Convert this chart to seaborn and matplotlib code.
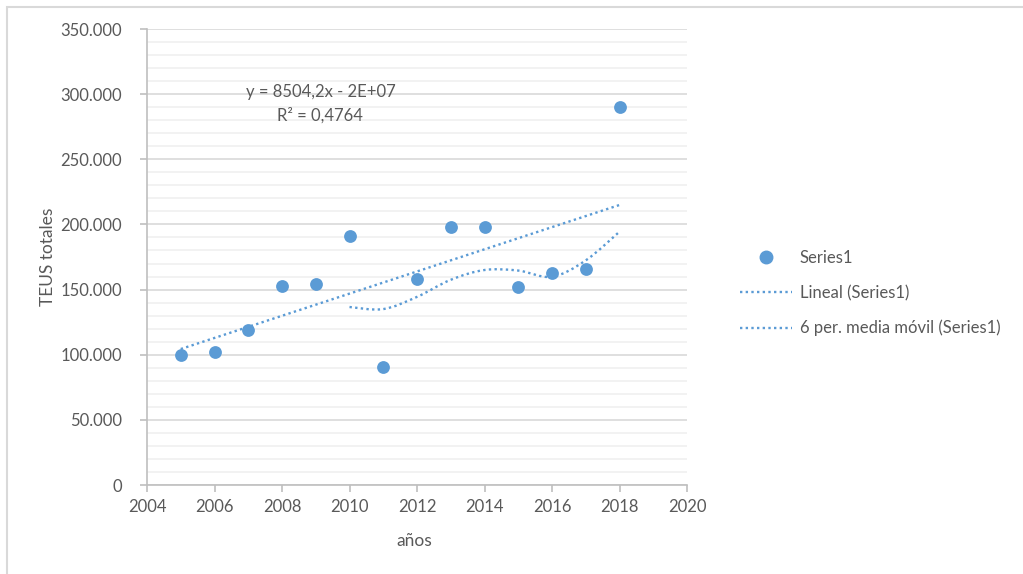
import numpy as np
import pandas as pd
import matplotlib
matplotlib.use("Agg")
import matplotlib.pyplot as plt
import seaborn as sns
from matplotlib.lines import Line2D
from matplotlib.path import Path
from matplotlib.patches import PathPatch, Rectangle
from matplotlib.ticker import FuncFormatter, MultipleLocator

# TEUS per year
years = [2005, 2006, 2007, 2008, 2009, 2010, 2011, 2012, 2013, 2014, 2015, 2016, 2017, 2018]
teus = [100000, 102100, 119200, 152700, 154300, 191400, 90400, 158400, 197800, 197800,
        151700, 162910, 165900, 290500]

x_label = "años"
y_label = "TEUS totales"
series_name = "Series1"
trend_label = "Lineal (Series1)"
ma_label = "6 per. media móvil (Series1)"
ma_period = 6

BLUE = "#5B9BD5"
TEXT = "#595959"
AXIS = "#BFBFBF"

sns.set_theme(style="white")
plt.rcParams["font.family"] = ["Lato", "DejaVu Sans"]

df = pd.DataFrame({"year": years, "teus": teus})

fig = plt.figure(figsize=(10.23, 5.74), dpi=100)
ax = fig.add_axes([147 / 1023, 1 - 485 / 574, 540 / 1023, 456 / 574])

# outer frame of the chart area
fig.patches.append(Rectangle((7 / 1023, -0.05), 1.2, 1 - 7 / 574 + 0.05,
                             transform=fig.transFigure, fill=False,
                             edgecolor="#D9D9D9", linewidth=1.5, zorder=0))

ax.set_xlim(2004, 2020)
ax.set_ylim(0, 350000)
ax.xaxis.set_major_locator(MultipleLocator(2))
ax.yaxis.set_major_locator(MultipleLocator(50000))
ax.yaxis.set_minor_locator(MultipleLocator(10000))
ax.yaxis.set_major_formatter(FuncFormatter(lambda v, p: f"{int(v):,}".replace(",", ".")))
ax.grid(axis="y", which="major", color="#D9D9D9", linewidth=1.2, zorder=0)
ax.grid(axis="y", which="minor", color="#F0F0F0", linewidth=1.2, zorder=0)
ax.grid(axis="x", visible=False)
ax.set_axisbelow(True)

for side in ("top", "right"):
    ax.spines[side].set_visible(False)
for side in ("left", "bottom"):
    ax.spines[side].set_color(AXIS)
    ax.spines[side].set_linewidth(1.2)

ax.tick_params(axis="y", which="major", left=True, length=5, width=1.2, color=AXIS,
               labelsize=12, labelcolor=TEXT, pad=13)
ax.tick_params(axis="y", which="minor", left=False)
ax.tick_params(axis="x", which="major", bottom=True, length=5, width=1.2, color=AXIS,
               labelsize=12, labelcolor=TEXT, pad=5)

dot = (0, (1, 1.4))

# linear trendline (least squares)
slope, intercept = np.polyfit(df["year"], df["teus"], 1)
fit = slope * df["year"] + intercept
r2 = 1 - ((df["teus"] - fit) ** 2).sum() / ((df["teus"] - df["teus"].mean()) ** 2).sum()
trend = pd.DataFrame({"year": [years[0], years[-1]],
                      "teus": [slope * years[0] + intercept, slope * years[-1] + intercept]})
sns.lineplot(data=trend, x="year", y="teus", ax=ax, color=BLUE, linewidth=1.7,
             linestyle=dot, zorder=3)

# moving average, drawn as a smoothed curve
ma = df["teus"].rolling(ma_period).mean()
mx = df["year"][ma.notna()].to_numpy(dtype=float)
my = ma.dropna().to_numpy()
verts = [(mx[0], my[0])]
codes = [Path.MOVETO]
n = len(mx)
for i in range(n - 1):
    p0 = np.array([mx[max(i - 1, 0)], my[max(i - 1, 0)]])
    p1 = np.array([mx[i], my[i]])
    p2 = np.array([mx[i + 1], my[i + 1]])
    p3 = np.array([mx[min(i + 2, n - 1)], my[min(i + 2, n - 1)]])
    c1 = p1 + (p2 - p0) / 6
    c2 = p2 - (p3 - p1) / 6
    verts += [tuple(c1), tuple(c2), tuple(p2)]
    codes += [Path.CURVE4] * 3
ax.add_patch(PathPatch(Path(verts, codes), fill=False, edgecolor=BLUE, linewidth=1.7,
                       linestyle=dot, zorder=3))

sns.scatterplot(data=df, x="year", y="teus", ax=ax, color=BLUE, s=85,
                edgecolor=BLUE, linewidth=0, zorder=4)

ax.set_xlabel("")
ax.set_ylabel("")
fig.text(48 / 1023, 1 - 257 / 574, y_label, rotation=90, ha="center", va="center",
         fontsize=12.5, color=TEXT)
fig.text(414 / 1023, 1 - 541 / 574, x_label, ha="center", va="center",
         fontsize=12.5, color=TEXT)

eq = f"y = {slope:.1f}x - 2E+07".replace(".", ",")
r2_text = f"R² = {r2:.4f}".replace(".", ",")
fig.text(321 / 1023, 1 - 92 / 574, eq, ha="center", va="center", fontsize=12, color=TEXT)
fig.text(320 / 1023, 1 - 115 / 574, r2_text, ha="center", va="center", fontsize=12, color=TEXT)

handles = [
    Line2D([], [], marker="o", linestyle="none", color=BLUE, markersize=9),
    Line2D([], [], color=BLUE, linewidth=1.7, linestyle=dot),
    Line2D([], [], color=BLUE, linewidth=1.7, linestyle=dot),
]
leg = fig.legend(handles, [series_name, trend_label, ma_label],
                 loc="upper left", bbox_to_anchor=(740 / 1023, 1 - 250 / 574),
                 frameon=False, fontsize=12, labelcolor=TEXT, handlelength=3.1,
                 handletextpad=0.5, labelspacing=1.13, borderaxespad=0, borderpad=0)

fig.savefig("out.png", dpi=100)
